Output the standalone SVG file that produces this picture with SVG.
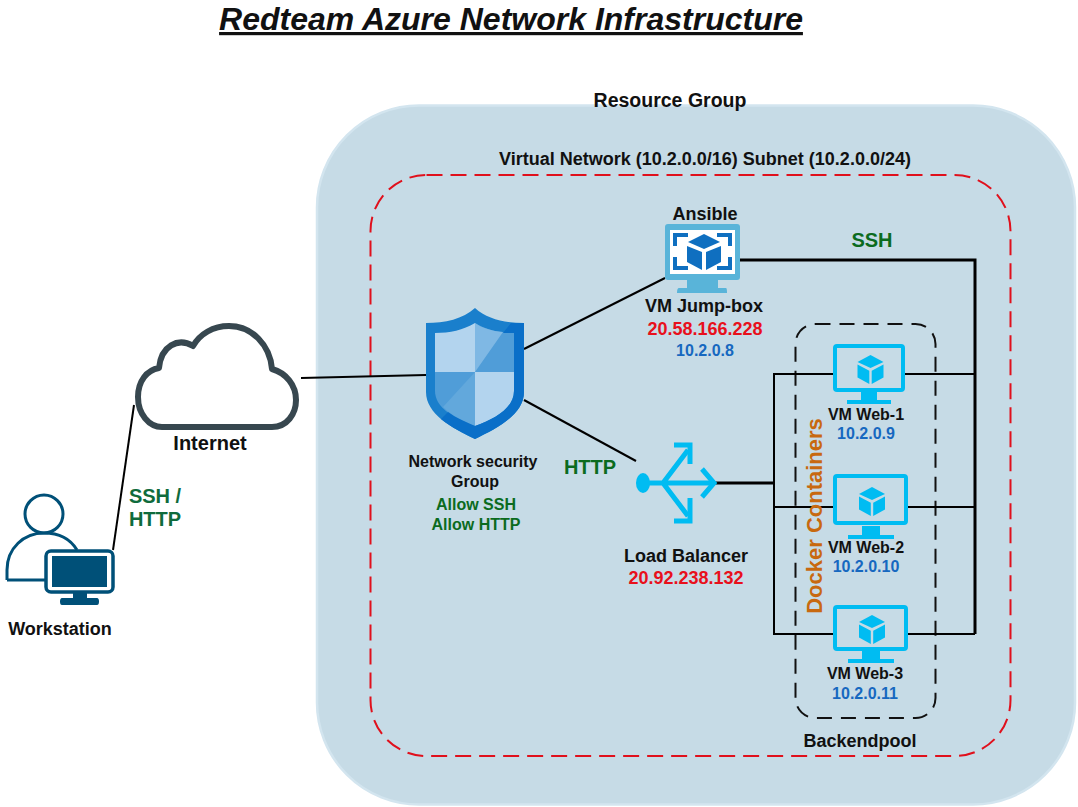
<svg xmlns="http://www.w3.org/2000/svg" width="1078" height="807" viewBox="0 0 1078 807">
<style>
text{font-family:"Liberation Sans",Arial,sans-serif;font-weight:bold;text-anchor:middle;fill:#111}
.g{fill:#0b6b1e}.dg{fill:#0f6b3c}.r{fill:#e8101c}.b{fill:#1668c0}
.c{fill:none;stroke:#000;stroke-width:2}
.t{fill:none;stroke:#000;stroke-width:3}
.cy{fill:#00bcf2}.cs{fill:none;stroke:#00bcf2;stroke-width:4}
</style>
<defs>
<g id="cube"><path class="cy" d="M0-13 13-6 0 0-13-6Z"/><path class="cy" d="M-13-3.500-1.200 2.800V16L-13 9.500Z"/><path class="cy" d="M13-3.500 1.200 2.800V16L13 9.500Z"/></g>
</defs>
<rect width="1078" height="807" fill="#fff"/>
<g id="title"><text x="511" y="30" font-size="32" font-style="italic" text-decoration="underline">Redteam Azure Network Infrastructure</text></g>
<g id="resource-group"><rect x="317" y="105.500" width="758" height="699" rx="102" fill="#c6dbe6" stroke="#d3e5ef" stroke-width="2.500"/><text x="670" y="107" font-size="19.500">Resource Group</text></g>
<g id="subnet"><rect x="370.500" y="175" width="640" height="581" rx="56" fill="none" stroke="#e0101c" stroke-width="2" stroke-dasharray="16 8"/><text x="705" y="165" font-size="18">Virtual Network (10.2.0.0/16) Subnet (10.2.0.0/24)</text></g>
<g id="backendpool"><rect x="795.500" y="324" width="140" height="394" rx="20" fill="none" stroke="#111" stroke-width="2" stroke-dasharray="15 9"/><text x="860" y="747" font-size="18">Backendpool</text></g>
<g id="connectors">
<path class="c" d="M113 550 134 405"/>
<path class="c" d="M301 378 426 375"/>
<path class="c" d="M524 349 665 278"/>
<path class="c" d="M524 400 636 461"/>
<path class="t" d="M740 260H975V634"/>
<path class="t" d="M715 483H774"/>
<path class="c" d="M833 374H774V634H833M833 507H774M905 374H975M908 507H975M908 634H975"/>
</g>
<text x="872" y="247" font-size="20" class="g">SSH</text>
<text x="590" y="474" font-size="20" class="g">HTTP</text>
<g id="workstation">
<circle cx="44" cy="514" r="19" fill="none" stroke="#005078" stroke-width="3"/>
<path d="M7 580V570C7 548 24 533 44 533C60 533 71 540 77 550" fill="none" stroke="#005078" stroke-width="3"/>
<path d="M7 580H45" fill="none" stroke="#005078" stroke-width="3"/>
<rect x="46" y="551" width="67" height="41" rx="5" fill="#fff" stroke="#005078" stroke-width="3.500"/>
<rect x="52" y="556" width="55" height="31" fill="#005078"/>
<path d="M73 593H87V598H97Q99 598 99 601.500T97 605H62Q60 605 60 601.500T62 598H73Z" fill="#005078"/>
<text x="60" y="635" font-size="18">Workstation</text>
<text x="155" y="503" font-size="20" class="dg">SSH /</text>
<text x="155" y="526" font-size="20" class="dg">HTTP</text>
</g>
<g id="internet">
<path d="M162 427H272C287 427 296 414 296 400C296 385 286 373 272 369C270 345 252 326 229 326C213 326 200 334 193 346C178 337 161 346 159 368C147 370 138 381 138 397C138 414 149 427 162 427Z" fill="#fff" stroke="#37474f" stroke-width="6" stroke-linejoin="round"/>
<text x="210" y="450" font-size="20">Internet</text>
</g>
<g id="nsg">
<path d="M475 308C487 319 505 323 524 323V392C524 414 498 428 475 439C452 428 426 414 426 392V323C445 323 463 319 475 308Z" fill="#1a7fcc"/>
<path d="M475 323V372H435V333C450 333 463 330 475 323Z" fill="#b3d4ee"/>
<path d="M475 323C487 330 500 333 514 333V372H475Z" fill="#509dd8"/>
<path d="M475 323C482 328 492 331 503 332L475 372Z" fill="#7fb8e4"/>
<path d="M435 372H475V426C455 419 435 408 435 391Z" fill="#509dd8"/>
<path d="M475 372V426C465 422 452 416 443 407Z" fill="#62a8dc"/>
<path d="M475 372H514V391C514 408 495 419 475 426Z" fill="#b3d4ee"/>
<path d="M524 323V392C524 414 498 428 475 439C465 434 452 428 441 419L448 412C456 418 466 422 475 426C495 419 514 408 514 391V333H503L511 323Z" fill="#0a6fc8"/>
<text x="473" y="467" font-size="16">Network security</text>
<text x="475" y="487" font-size="16">Group</text>
<text x="476" y="510" font-size="16" class="g">Allow SSH</text>
<text x="476" y="530" font-size="16" class="g">Allow HTTP</text>
</g>
<g id="jumpbox">
<text x="705" y="220" font-size="18">Ansible</text>
<rect x="665" y="224" width="75" height="56" rx="3" fill="#59b4d9"/>
<rect x="670" y="230" width="65" height="44" fill="#fff"/>
<path d="M687 280H718V288H726Q727 288 727 293H677Q677 288 679 288H687Z" fill="#59b4d9"/>
<path d="M688 235H675V246M675 257V268H688M717 235H730V246M730 257V268H717" fill="none" stroke="#0f6fc0" stroke-width="4"/>
<g transform="translate(704 252)" fill="#0f6fc0"><path d="M0-18 16-10 0-3-16-10Z"/><path d="M-17-6-2 0V18L-17 10Z"/><path d="M17-6 2 0V18L17 10Z"/></g>
<text x="704" y="312" font-size="18">VM Jump-box</text>
<text x="705" y="335" font-size="18" class="r">20.58.166.228</text>
<text x="705" y="356" font-size="16" class="b">10.2.0.8</text>
</g>
<g id="load-balancer">
<ellipse cx="643" cy="483" rx="7" ry="10" class="cy"/>
<path d="M643 483H712M663 483 688 450M663 483 688 516" fill="none" stroke="#00bcf2" stroke-width="5"/>
<path d="M674 445H690V464M674 521H690V498M702 469 714 483 702 497" fill="none" stroke="#00bcf2" stroke-width="5"/>
<text x="686" y="562" font-size="18">Load Balancer</text>
<text x="686" y="584" font-size="18" class="r">20.92.238.132</text>
</g>
<g id="vm-web-1">
<rect x="835" y="346" width="68" height="44" rx="2" class="cs"/>
<path class="cy" d="M861 392H877V400H891V404H847V400H861Z"/>
<use href="#cube" x="870.500" y="368"/>
<text x="866" y="420" font-size="16">VM Web-1</text>
<text x="866" y="439" font-size="16" class="b">10.2.0.9</text>
</g>
<g id="vm-web-2">
<rect x="835" y="476" width="71" height="47" rx="2" class="cs"/>
<path class="cy" d="M862 526H880V535H894V539H848V535H862Z"/>
<use href="#cube" x="872" y="500"/>
<text x="866" y="553" font-size="16">VM Web-2</text>
<text x="866" y="572" font-size="16" class="b">10.2.0.10</text>
</g>
<g id="vm-web-3">
<rect x="835" y="607" width="71" height="42" rx="2" class="cs"/>
<path class="cy" d="M862 651H880V659H894V663H848V659H862Z"/>
<use href="#cube" x="872" y="628"/>
<text x="865" y="679" font-size="16">VM Web-3</text>
<text x="865" y="699" font-size="16" class="b">10.2.0.11</text>
</g>
<text transform="translate(822 516) rotate(-90)" font-size="22" style="fill:#c8690f">Docker Containers</text>
</svg>
